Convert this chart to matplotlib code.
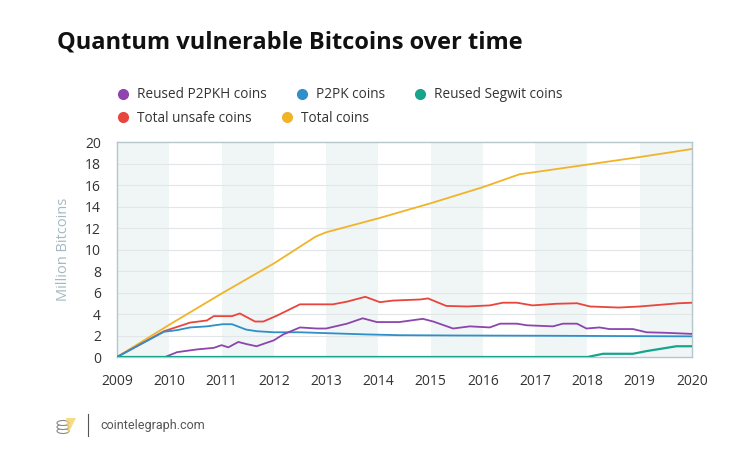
import matplotlib
matplotlib.use('Agg')
import matplotlib.pyplot as plt
from matplotlib.lines import Line2D
from matplotlib.patches import Ellipse, Polygon

plt.rcParams['font.family'] = ['Open Sans', 'DejaVu Sans']

# values (million BTC)
total_x = [2009.0, 2010.0, 2011.0, 2012.0, 2012.8, 2013.0, 2014.0, 2015.0,
           2016.0, 2016.7, 2017.0, 2018.0, 2019.0, 2020.0]
total_y = [0.0, 3.0, 5.9, 8.7, 11.2, 11.6, 12.9, 14.3,
           15.8, 17.0, 17.2, 17.9, 18.6, 19.35]

unsafe_x = [2009.0, 2009.9, 2010.15, 2010.4, 2010.72, 2010.85, 2011.2, 2011.35,
            2011.64, 2011.8, 2012.06, 2012.5, 2012.88, 2013.13, 2013.4, 2013.75,
            2014.03, 2014.28, 2014.8, 2014.95, 2015.05, 2015.3, 2015.7, 2016.13,
            2016.38, 2016.65, 2016.95, 2017.4, 2017.8, 2018.05, 2018.6, 2019.0,
            2019.5, 2019.75, 2020.0]
unsafe_y = [0.0, 2.4, 2.8, 3.2, 3.4, 3.8, 3.8, 4.05,
            3.3, 3.3, 3.85, 4.9, 4.9, 4.9, 5.15, 5.6,
            5.1, 5.25, 5.35, 5.45, 5.25, 4.75, 4.7, 4.8,
            5.05, 5.05, 4.8, 4.95, 5.0, 4.7, 4.6, 4.7,
            4.9, 5.0, 5.05]

p2pk_x = [2009.0, 2009.9, 2010.15, 2010.4, 2010.72, 2011.02, 2011.2, 2011.47,
          2011.67, 2012.0, 2012.5, 2013.13, 2013.77, 2014.4, 2015.5, 2017.0,
          2018.5, 2020.0]
p2pk_y = [0.0, 2.35, 2.5, 2.75, 2.85, 3.05, 3.05, 2.55,
          2.4, 2.3, 2.3, 2.2, 2.1, 2.03, 2.0, 1.98,
          1.95, 1.92]

p2pkh_x = [2009.0, 2009.92, 2010.15, 2010.52, 2010.85, 2011.0, 2011.13, 2011.32,
           2011.48, 2011.67, 2012.0, 2012.18, 2012.5, 2012.82, 2013.0, 2013.4,
           2013.7, 2013.97, 2014.4, 2014.85, 2015.05, 2015.43, 2015.75, 2016.13,
           2016.33, 2016.65, 2016.84, 2017.34, 2017.53, 2017.8, 2017.98, 2018.23,
           2018.42, 2018.87, 2019.13, 2019.5, 2020.0]
p2pkh_y = [0.0, 0.0, 0.45, 0.7, 0.85, 1.1, 0.9, 1.4,
           1.2, 1.0, 1.55, 2.1, 2.75, 2.65, 2.65, 3.1,
           3.6, 3.25, 3.25, 3.55, 3.3, 2.65, 2.85, 2.75,
           3.1, 3.1, 2.95, 2.85, 3.1, 3.1, 2.65, 2.75,
           2.6, 2.6, 2.3, 2.25, 2.15]

segwit_x = [2009.0, 2018.0, 2018.3, 2018.87, 2019.13, 2019.45, 2019.7, 2020.0]
segwit_y = [0.0, 0.0, 0.3, 0.3, 0.55, 0.8, 1.0, 1.0]

years = list(range(2009, 2021))
c_p2pkh = '#8e44ad'
c_p2pk = '#2e8fc9'
c_segwit = '#16a58c'
c_unsafe = '#e8453c'
c_total = '#f0b429'

fig = plt.figure(figsize=(7.5, 4.61), dpi=100)
ax = fig.add_axes([117 / 750, 1 - 357 / 461, 575 / 750, 215 / 461])

# alternating light bands
for y0 in years[:-1:2]:
    ax.axvspan(y0, y0 + 1, color='#f0f5f6', lw=0, zorder=0)
for v in range(2, 20, 2):
    ax.axhline(v, color='#e2e6e8', lw=0.8, zorder=1)

ax.plot(total_x, total_y, color=c_total, lw=1.3, zorder=3)
ax.plot(unsafe_x, unsafe_y, color=c_unsafe, lw=1.3, zorder=3)
ax.plot(p2pk_x, p2pk_y, color=c_p2pk, lw=1.3, zorder=3)
ax.plot(p2pkh_x, p2pkh_y, color=c_p2pkh, lw=1.3, zorder=3)
ax.plot(segwit_x, segwit_y, color=c_segwit, lw=1.6, zorder=4)

ax.set_xlim(2009, 2020)
ax.set_ylim(0, 20)
ax.set_xticks(years)
ax.set_yticks(range(0, 21, 2))
ax.tick_params(length=0, labelsize=10, colors='#333333', pad=12)
ax.tick_params(axis='y', pad=11.5)
for s in ax.spines.values():
    s.set_color('#b5c6cc')
    s.set_linewidth(1.0)
ax.set_ylabel('Million Bitcoins', color='#a3b9c1', fontsize=10.5, labelpad=10)

fig.text(57 / 750, 1 - 42 / 461, 'Quantum vulnerable Bitcoins over time',
         fontsize=17, fontweight='bold', color='#111111', va='center')

# legend, two rows
def handle(c, label):
    return Line2D([], [], marker='o', ls='', color=c, markersize=7, label=label)

row1 = [handle(c_p2pkh, 'Reused P2PKH coins'), handle(c_p2pk, 'P2PK coins'),
        handle(c_segwit, 'Reused Segwit coins')]
row2 = [handle(c_unsafe, 'Total unsafe coins'), handle(c_total, 'Total coins')]
leg_kw = dict(frameon=False, fontsize=9.8, handlelength=0.6, handletextpad=0.73,
              columnspacing=2.27, labelcolor='#333333', loc='center left',
              borderaxespad=0, borderpad=0)
l1 = fig.legend(handles=row1, ncol=3, bbox_to_anchor=(119 / 750, 1 - 95 / 461), **leg_kw)
l2 = fig.legend(handles=row2, ncol=2, bbox_to_anchor=(119 / 750, 1 - 118 / 461), **leg_kw)

# footer
for k in range(3):
    fig.add_artist(Ellipse((63 / 750, 1 - (431 - 4 * k) / 461), 12 / 750, 5 / 461,
                           transform=fig.transFigure, fc='white', ec='#888888', lw=0.8))
fig.add_artist(Polygon([(66 / 750, 1 - 418 / 461), (76 / 750, 1 - 418 / 461),
                        (68 / 750, 1 - 434 / 461)], closed=True,
                       transform=fig.transFigure, fc='#f3d36b', ec='none', alpha=0.8))
fig.add_artist(Line2D([88 / 750, 88 / 750], [1 - 414 / 461, 1 - 436 / 461],
                      transform=fig.transFigure, color='#555555', lw=0.8))
fig.text(100 / 750, 1 - 425 / 461, 'cointelegraph.com', fontsize=9,
         color='#555555', va='center', family=['Roboto', 'DejaVu Sans'])

fig.savefig('out.png', dpi=100)
